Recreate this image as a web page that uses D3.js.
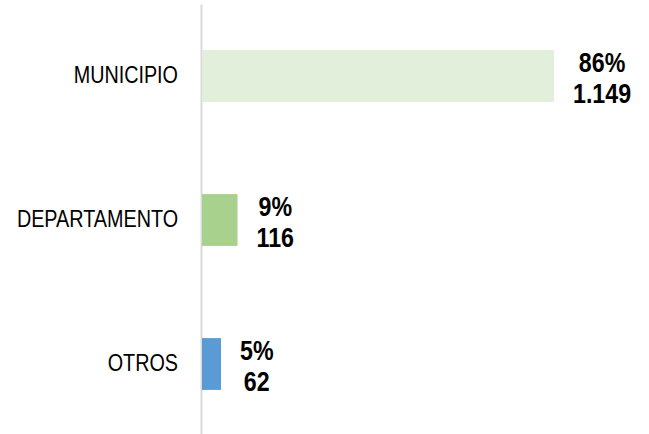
<!DOCTYPE html>
<html>
<head>
<meta charset="utf-8">
<script src="https://cdn.jsdelivr.net/npm/d3@7"></script>
<style>
  body { margin: 0; background: #fff; }
  svg { display: block; }
</style>
</head>
<body>
<div id="chart"></div>
<script>
// data
var categories = ["MUNICIPIO", "DEPARTAMENTO", "OTROS"];
var counts = [1149, 116, 62];
var percents = ["86%", "9%", "5%"];
var countLabels = ["1.149", "116", "62"];
var barColors = ["#e2efda", "#a9d18e", "#5b9bd5"];

var W = 649, H = 434;
var margin = {top: 4, left: 202};
var font = "'Liberation Sans', Arial, sans-serif";
var narrow = 0.86; // no narrow font installed, squeeze text horizontally

var svg = d3.select("#chart")
  .append("svg")
    .attr("width", W)
    .attr("height", H);

var g = svg.append("g")
    .attr("transform", "translate(" + margin.left + ",0)");

// scales
var x = d3.scaleLinear()
  .domain([0, d3.max(counts)])
  .range([0, 352]);

var y = d3.scaleBand()
  .domain(categories)
  .range([margin.top, 436])
  .paddingInner(0.64)
  .paddingOuter(0.32);

// category axis (just the vertical line + labels)
var axis = g.append("g")
  .attr("transform", "translate(-1,0)")
  .call(d3.axisLeft(y).tickSize(0).tickPadding(0));
axis.select(".domain")
  .attr("stroke", "#d9d9d9")
  .attr("stroke-width", 2);
axis.selectAll("text")
  .attr("x", -23 / narrow)
  .attr("transform", "scale(" + narrow + ",1)")
  .style("font-family", font)
  .style("font-size", "23px")
  .style("fill", "#000");

var rows = categories.map(function(c, i) {
  return {cat: c, value: counts[i], pct: percents[i], lab: countLabels[i], color: barColors[i]};
});

// bars
g.selectAll(".bar")
  .data(rows)
  .enter()
  .append("rect")
    .attr("class", "bar")
    .attr("x", x(0))
    .attr("y", function(d) { return y(d.cat); })
    .attr("width", function(d) { return x(d.value); })
    .attr("height", y.bandwidth())
    .attr("fill", function(d) { return d.color; });

// value labels: percent on top, count below, centred as a block
var lblG = g.selectAll(".lbl")
  .data(rows)
  .enter()
  .append("g")
    .attr("class", "lbl");

var labels = lblG.append("text")
    .attr("text-anchor", "middle")
    .attr("transform", "scale(" + narrow + ",1)")
    .style("font-family", font)
    .style("font-size", "27px")
    .style("font-weight", "bold")
    .style("fill", "#000");

labels.append("tspan")
  .attr("class", "p")
  .attr("x", 0)
  .attr("y", function(d) { return y(d.cat) + y.bandwidth() / 2 - 4; })
  .text(function(d) { return d.pct; });
labels.append("tspan")
  .attr("class", "n")
  .attr("x", 0)
  .attr("y", function(d) { return y(d.cat) + y.bandwidth() / 2 + 27; })
  .text(function(d) { return d.lab; });

lblG.each(function(d) {
  var t = d3.select(this);
  var w = narrow * Math.max(t.select(".p").node().getComputedTextLength(),
                            t.select(".n").node().getComputedTextLength());
  var cx = x(d.value) + 19 + w / 2;
  t.attr("transform", "translate(" + cx + ",0)");
});
</script>
</body>
</html>
